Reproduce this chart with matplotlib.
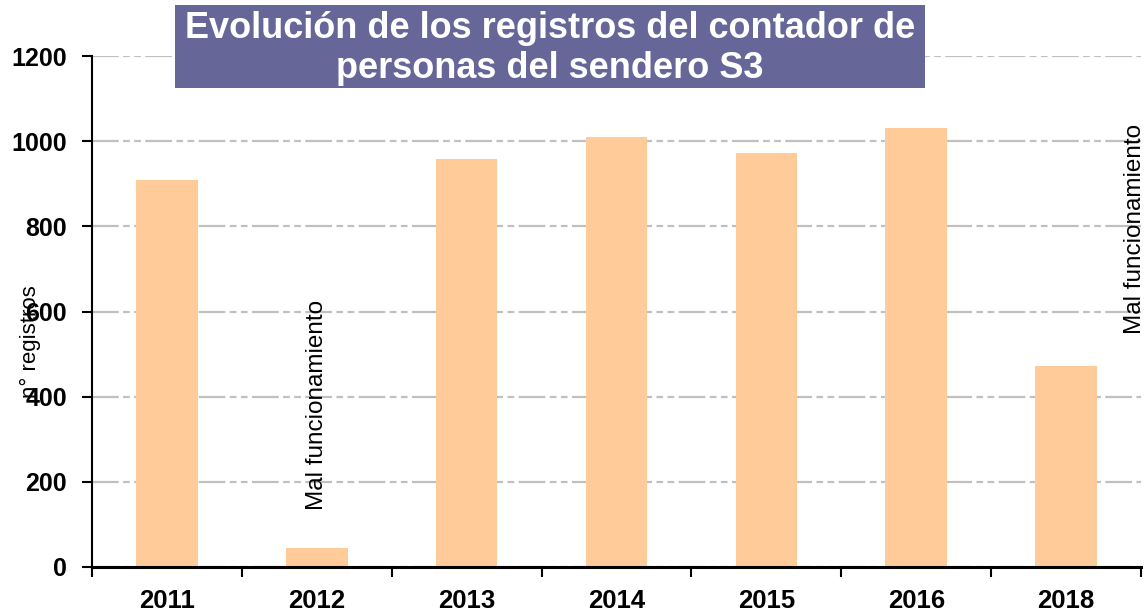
import matplotlib.pyplot as plt
from matplotlib.patches import Rectangle

plt.rcParams['font.family'] = ['Liberation Sans', 'DejaVu Sans']

years = ['2011', '2012', '2013', '2014', '2015', '2016', '2018']
registros = [908, 45, 958, 1010, 972, 1031, 472]
notes = {1: 'Mal funcionamiento', 6: 'Mal funcionamiento'}

fig = plt.figure(figsize=(11.46, 6.13), dpi=100)
ax = fig.add_axes([92 / 1146, 1 - 567 / 613, 1049 / 1146, 511 / 613])

x = list(range(len(years)))
ax.bar(x, registros, width=0.41, color='#FFCC99', zorder=2)

ax.set_xlim(-0.5, len(years) - 0.5)
ax.set_ylim(0, 1200)
ax.set_yticks(range(0, 1201, 200))
ax.yaxis.grid(True, color='#c0c0c0', linewidth=1.6, dashes=(12, 2, 3, 2, 3, 2), zorder=1)

# category boundaries get the tick marks, years sit between them
ax.set_xticks([i - 0.5 for i in range(len(years) + 1)])
ax.set_xticklabels([])
ax.set_xticks(x, minor=True)
ax.set_xticklabels(years, minor=True, fontsize=18.5, fontweight='bold')
ax.tick_params(axis='x', which='minor', length=0, pad=16)
ax.tick_params(axis='x', which='major', length=7, width=1.5, direction='out')
ax.tick_params(axis='y', length=7, width=1.5, labelsize=18, pad=11)
for t in ax.get_yticklabels():
    t.set_fontweight('bold')

for s in ['top', 'right']:
    ax.spines[s].set_visible(False)
ax.spines['left'].set_linewidth(1.5)
ax.spines['bottom'].set_linewidth(2.2)

# y title sits over the tick labels, so draw it as figure text on top
fig.text(30 / 1146, 1 - 342 / 613, 'n° registros', rotation=90, ha='center', va='center',
         fontsize=16, zorder=10)

ax.text(1.0, 134, notes[1], rotation=90, ha='center', va='bottom', fontsize=17.5)
ax.text(6.46, 546, notes[6], rotation=90, ha='center', va='bottom', fontsize=17.5, clip_on=False)

# title banner
fig.patches.append(Rectangle((175 / 1146, 1 - 88 / 613), 750 / 1146, 83 / 613,
                             transform=fig.transFigure, facecolor='#666699',
                             edgecolor='none', zorder=5))
fig.text(550 / 1146, 1 - 28 / 613, 'Evolución de los registros del contador de',
         ha='center', va='center', color='white', fontsize=26, fontweight='bold', zorder=6)
fig.text(550 / 1146, 1 - 68 / 613, 'personas del sendero S3',
         ha='center', va='center', color='white', fontsize=26, fontweight='bold', zorder=6)

fig.savefig('out.png', dpi=100)
